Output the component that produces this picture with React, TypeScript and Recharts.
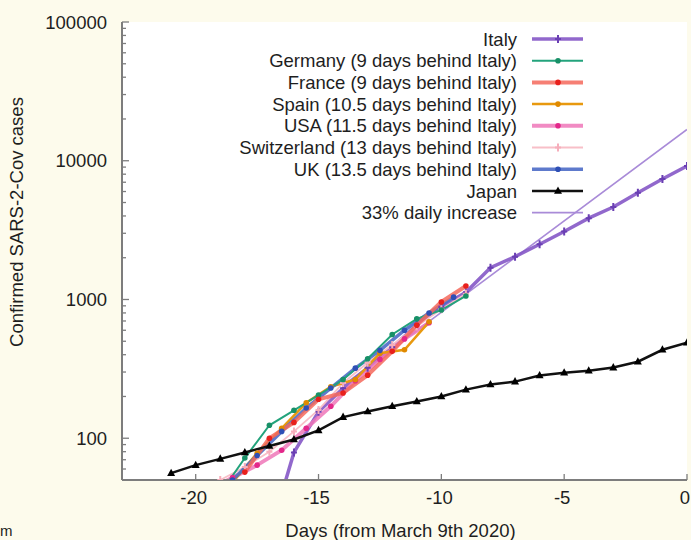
import React from "react";
import { LineChart, Line, XAxis, YAxis, CartesianGrid, Legend } from "recharts";

// ---------- data ----------
const italyDays = [-17, -16, -15, -14, -13, -12, -11, -10, -9, -8, -7, -6, -5, -4, -3, -2, -1, 0];
const italyCases = [20, 79, 155, 229, 322, 453, 655, 888, 1128, 1694, 2036, 2502, 3089, 3858, 4636, 5883, 7375, 9172];

const germanyDays = [-19, -18, -17, -16, -15, -14, -13, -12, -11, -10, -9];
const germanyCases = [40, 72, 124, 159, 205, 265, 374, 560, 725, 840, 1060];

const franceDays = [-18, -17, -16, -15, -14, -13, -12, -11, -10, -9];
const franceCases = [57, 100, 130, 191, 212, 285, 423, 653, 960, 1250];

const spainDays = [-18.5, -17.5, -16.5, -15.5, -14.5, -13.5, -12.5, -11.5, -10.5];
const spainCases = [48, 78, 118, 180, 235, 265, 410, 434, 690];

const usaDays = [-19.5, -18.5, -17.5, -16.5, -15.5, -14.5, -13.5, -12.5, -11.5, -10.5];
const usaCases = [42, 52, 64, 82, 118, 170, 260, 370, 520, 680];

const swissDays = [-19, -18, -17, -16, -15, -14, -13, -12, -11, -10, -9];
const swissCases = [50, 62, 80, 112, 160, 250, 350, 470, 640, 850, 1100];

const ukDays = [-18.5, -17.5, -16.5, -15.5, -14.5, -13.5, -12.5, -11.5, -10.5, -9.5];
const ukCases = [50, 75, 112, 165, 230, 320, 430, 600, 800, 1040];

const japanDays = [-21, -20, -19, -18, -17, -16, -15, -14, -13, -12, -11, -10, -9, -8, -7, -6, -5, -4, -3, -2, -1, 0];
const japanCases = [56, 64, 71, 79, 88, 98, 114, 142, 156, 170, 184, 200, 224, 244, 256, 283, 297, 307, 323, 356, 434, 488];

const trendDays = [-14, 0];
const trendCases = [240, 16800];

const xTicks = [-20, -15, -10, -5, 0];
const yMajorTicks = [100, 1000, 10000, 100000];
const yMinorTicks = [
  60, 70, 80, 90,
  200, 300, 400, 500, 600, 700, 800, 900,
  2000, 3000, 4000, 5000, 6000, 7000, 8000, 9000,
  20000, 30000, 40000, 50000, 60000, 70000, 80000, 90000,
];

const seriesNames = [
  "Italy",
  "Germany (9 days behind Italy)",
  "France (9 days behind Italy)",
  "Spain (10.5 days behind Italy)",
  "USA (11.5 days behind Italy)",
  "Switzerland (13 days behind Italy)",
  "UK (13.5 days behind Italy)",
  "Japan",
  "33% daily increase",
];

// ---------- styles ----------
const FONT = "'Liberation Sans', Arial, Helvetica, sans-serif";
const FS = 18.5;
const BG = "#fdfbec";
const FRAME = "#7d7d7d";
const TEXT = "#1e1e1e";

type Style = { stroke: string; width: number; opacity: number; marker: string; mcolor: string };
const styles: Style[] = [
  { stroke: "#8558c6", width: 3.5, opacity: 0.9, marker: "plus", mcolor: "#6a3fb3" },
  { stroke: "#23a37c", width: 2, opacity: 1, marker: "circle", mcolor: "#189067" },
  { stroke: "#f4695c", width: 4, opacity: 0.85, marker: "circle", mcolor: "#e8201c" },
  { stroke: "#e8990f", width: 2.5, opacity: 1, marker: "circle", mcolor: "#e08a00" },
  { stroke: "#ef77b8", width: 4, opacity: 0.85, marker: "circle", mcolor: "#e3288a" },
  { stroke: "#f8bfc8", width: 1.8, opacity: 1, marker: "plus", mcolor: "#f6aebb" },
  { stroke: "#4d6cc6", width: 3.5, opacity: 0.9, marker: "circle", mcolor: "#2f4fb5" },
  { stroke: "#111111", width: 2.5, opacity: 1, marker: "triangle", mcolor: "#000000" },
  { stroke: "#a98bd8", width: 1.6, opacity: 1, marker: "none", mcolor: "#a98bd8" },
];

function toRows(days: number[], cases: number[]) {
  return days.map((d, i) => ({ day: d, cases: cases[i] }));
}

const seriesData = [
  toRows(italyDays, italyCases),
  toRows(germanyDays, germanyCases),
  toRows(franceDays, franceCases),
  toRows(spainDays, spainCases),
  toRows(usaDays, usaCases),
  toRows(swissDays, swissCases),
  toRows(ukDays, ukCases),
  toRows(japanDays, japanCases),
  toRows(trendDays, trendCases),
];

// draw order (index into the arrays above)
const drawOrder = [8, 0, 5, 4, 3, 6, 1, 2, 7];

function markerShape(kind: string, cx: number, cy: number, color: string, key: string) {
  if (kind === "plus") {
    return (
      <path key={key} d={`M${cx - 3},${cy}H${cx + 3}M${cx},${cy - 4}V${cy + 4}`} stroke={color} strokeWidth={2} fill="none" />
    );
  }
  if (kind === "triangle") {
    return <path key={key} d={`M${cx},${cy - 4.5}L${cx + 4},${cy + 2.8}L${cx - 4},${cy + 2.8}Z`} fill={color} />;
  }
  if (kind === "circle") {
    return <circle key={key} cx={cx} cy={cy} r={2.8} fill={color} />;
  }
  return <g key={key} />;
}

function makeDot(s: Style, name: string) {
  return (props: any) => {
    const { cx, cy, index } = props;
    const key = `${name}-${index}`;
    if (cx == null || cy == null || !isFinite(cx) || !isFinite(cy)) return <g key={key} />;
    return markerShape(s.marker, cx, cy, s.mcolor, key);
  };
}

const YTick = (props: any) => {
  const { x, y, payload } = props;
  const v = payload.value;
  const major = yMajorTicks.includes(v);
  return (
    <g>
      <line x1={x} x2={x + (major ? 7 : 4)} y1={y} y2={y} stroke={FRAME} strokeWidth={1.3} />
      {major && (
        <text x={x - 15} y={y} dy="0.36em" textAnchor="end" fontFamily={FONT} fontSize={FS} fill={TEXT}>
          {String(v)}
        </text>
      )}
    </g>
  );
};

const XTick = (props: any) => {
  const { x, y, payload } = props;
  return (
    <g>
      <line x1={x} x2={x} y1={y} y2={y - 6} stroke={FRAME} strokeWidth={1.3} />
      <text x={x - 2} y={y + 17} dy="0.36em" textAnchor="middle" fontFamily={FONT} fontSize={FS} fill={TEXT}>
        {String(payload.value)}
      </text>
    </g>
  );
};

const LegendOverlay = () => {
  const textRight = 517;
  const lineX1 = 532;
  const lineX2 = 583;
  const mx = 558;
  const top = 39;
  const step = 21.7;
  return (
    <svg width={691} height={540} style={{ position: "absolute", left: 0, top: 0, pointerEvents: "none", overflow: "visible" }}>
      {seriesNames.map((name, i) => {
        const s = styles[i];
        const y = top + i * step;
        return (
          <g key={name}>
            <text x={textRight} y={y} dy="0.36em" textAnchor="end" fontFamily={FONT} fontSize={FS} fill={TEXT}>
              {name}
            </text>
            <line x1={lineX1} x2={lineX2} y1={y} y2={y} stroke={s.stroke} strokeWidth={s.width} strokeOpacity={s.opacity} />
            {markerShape(s.marker, mx, y, s.mcolor, `lm-${i}`)}
          </g>
        );
      })}
      <text x={0} y={536} fontFamily={FONT} fontSize={15} fill={TEXT}>m</text>
    </svg>
  );
};

export default function App() {
  return (
    <div style={{ position: "absolute", left: 0, top: 0, width: 691, height: 540, background: BG }}>
      <LineChart width={691} height={540} margin={{ top: 22, right: 4, bottom: 0, left: 0 }}>
        <CartesianGrid horizontal={false} vertical={false} fill="#ffffff" fillOpacity={1} stroke="none" />
        <XAxis
          dataKey="day"
          type="number"
          domain={[-23, 0]}
          ticks={xTicks}
          interval={0}
          allowDataOverflow
          height={60}
          tickSize={0}
          tickMargin={0}
          tickLine={false}
          tick={<XTick />}
          axisLine={{ stroke: FRAME, strokeWidth: 2 }}
          label={(p: any) => {
            const vb = p.viewBox;
            return (
              <text x={vb.x + vb.width / 2 - 4} y={vb.y + 57} textAnchor="middle" fontFamily={FONT} fontSize={FS} fill={TEXT}>
                Days (from March 9th 2020)
              </text>
            );
          }}
        />
        <XAxis xAxisId="top" orientation="top" type="number" domain={[-23, 0]} height={0} tick={false} tickLine={false} axisLine={{ stroke: FRAME, strokeWidth: 2 }} />
        <YAxis
          scale="log"
          type="number"
          domain={[50, 100000]}
          ticks={[...yMajorTicks, ...yMinorTicks]}
          interval={0}
          allowDataOverflow
          width={122}
          tickSize={0}
          tickMargin={0}
          tickLine={false}
          tick={<YTick />}
          axisLine={{ stroke: FRAME, strokeWidth: 2 }}
          label={() => (
            <text x={23} y={222} transform="rotate(-90 23 222)" textAnchor="middle" fontFamily={FONT} fontSize={FS} fill={TEXT}>
              Confirmed SARS-2-Cov cases
            </text>
          )}
        />
        <YAxis yAxisId="right" orientation="right" type="number" domain={[0, 1]} width={0} tick={false} tickLine={false} axisLine={{ stroke: FRAME, strokeWidth: 2 }} />
        {drawOrder.map((i) => {
          const s = styles[i];
          return (
            <Line
              key={seriesNames[i]}
              data={seriesData[i]}
              dataKey="cases"
              name={seriesNames[i]}
              type="linear"
              stroke={s.stroke}
              strokeWidth={s.width}
              strokeOpacity={s.opacity}
              dot={s.marker === "none" ? false : makeDot(s, `s${i}`)}
              activeDot={false}
              isAnimationActive={false}
            />
          );
        })}
        <Legend layout="horizontal" verticalAlign="middle" align="center" wrapperStyle={{ position: "absolute", left: 0, top: 0, width: 691, height: 540 }} content={() => <LegendOverlay />} />
      </LineChart>
    </div>
  );
}
